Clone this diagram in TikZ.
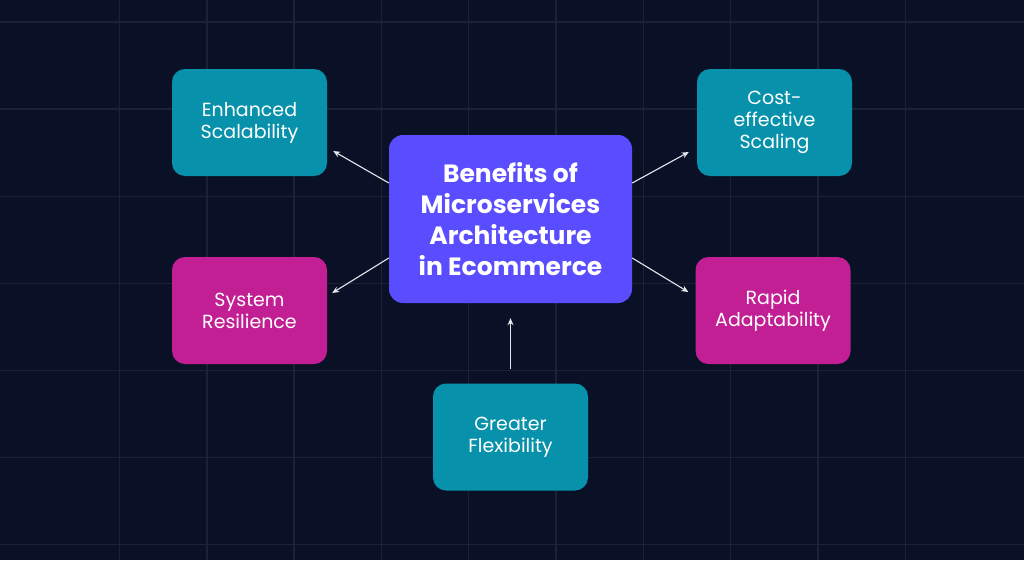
\documentclass[tikz,border=0pt]{standalone}
\usepackage{fontspec}
\setmainfont{Poppins}
\usetikzlibrary{arrows.meta}
\definecolor{bg}{HTML}{0A1127}
\definecolor{gridc}{HTML}{1A2234}
\definecolor{tealc}{HTML}{0891AB}
\definecolor{magc}{HTML}{C21F95}
\definecolor{purc}{HTML}{5A4CFF}
\definecolor{arrc}{HTML}{E6E8EE}
\tikzset{
  benefit/.style={rounded corners=13pt, minimum width=155pt, minimum height=107pt,
    align=center, text=white, font=\fontsize{19}{22}\selectfont, inner sep=0pt},
  hubbox/.style={rounded corners=14pt, fill=purc, minimum width=243pt, minimum height=168pt,
    align=center, text=white, font=\fontsize{25}{31}\selectfont\bfseries, inner sep=0pt},
  conn/.style={draw=arrc, line width=1.1pt, -{Stealth[length=7pt,width=6pt]}},
  gridline/.style={draw=gridc, line width=1.4pt}
}
\begin{document}
\begin{tikzpicture}[x=1pt,y=-1pt]
\fill[bg] (0,0) rectangle (1024,560);
\useasboundingbox (0,0) rectangle (1024,560);
\foreach \k in {0,...,9} { \draw[gridline] ({119.5+87.3*\k},0) -- ({119.5+87.3*\k},560); }
\foreach \k in {0,...,6} { \draw[gridline] (0,{22+87.1*\k}) -- (1024,{22+87.1*\k}); }

\node[hubbox] (c) at (510.5,219) {Benefits of\\Microservices\\Architecture\\in Ecommerce};
\node[benefit, fill=tealc] (enh) at (249.5,122.5) {Enhanced\\Scalability};
\node[benefit, fill=magc] (res) at (249.5,310.5) {System\\Resilience};
\node[benefit, fill=tealc] (cost) at (774.5,122.5) {Cost-\\effective\\Scaling};
\node[benefit, fill=magc] (rap) at (773,310.5) {Rapid\\Adaptability};
\node[benefit, fill=tealc] (flex) at (510.5,437) {Greater\\Flexibility};

\draw[conn] ([yshift=36pt]c.west) -- ([xshift=6pt,yshift=-28.5pt]enh.east);
\draw[conn] ([yshift=-39pt]c.west) -- ([xshift=5pt,yshift=17.5pt]res.east);
\draw[conn] ([yshift=36pt]c.east) -- ([xshift=-8pt,yshift=-29.5pt]cost.west);
\draw[conn] ([yshift=-39pt]c.east) -- ([xshift=-7pt,yshift=18.5pt]rap.west);
\draw[conn] ([yshift=14pt]flex.north) -- ([yshift=-15pt]c.south);
\end{tikzpicture}
\end{document}
